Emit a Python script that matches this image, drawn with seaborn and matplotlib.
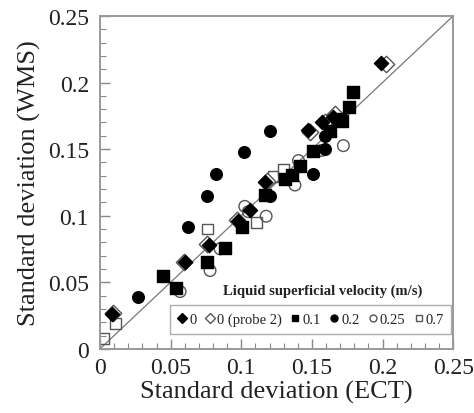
import matplotlib
matplotlib.use("Agg")
import matplotlib.pyplot as plt
import seaborn as sns
import pandas as pd
import numpy as np
from matplotlib.ticker import MultipleLocator, FixedLocator
from matplotlib.lines import Line2D

sns.set_theme(style="white")
plt.rcParams['font.family'] = ['Liberation Serif', 'DejaVu Serif']

# series data (ECT x, WMS y)
s0_x = [0.0087, 0.060, 0.077, 0.098, 0.106, 0.117, 0.1475, 0.157, 0.165, 0.199]
s0_y = [0.026, 0.065, 0.078, 0.096, 0.104, 0.125, 0.164, 0.170, 0.174, 0.2147]

s0p2_x = [0.0095, 0.0595, 0.0755, 0.097, 0.118, 0.149, 0.159, 0.1665, 0.2023]
s0p2_y = [0.027, 0.065, 0.079, 0.097, 0.126, 0.163, 0.170, 0.176, 0.214]

s01_x = [0.0449, 0.0538, 0.0755, 0.0885, 0.1003, 0.1165, 0.131, 0.1357, 0.1416,
         0.1506, 0.1629, 0.170, 0.171, 0.1765, 0.1794]
s01_y = [0.0546, 0.0458, 0.0651, 0.0756, 0.0913, 0.1153, 0.1276, 0.1306, 0.1376,
         0.1489, 0.1639, 0.1727, 0.1714, 0.1814, 0.1927]

s02_x = [0.0272, 0.062, 0.0755, 0.082, 0.102, 0.120, 0.1204, 0.151, 0.1593, 0.1593]
s02_y = [0.0388, 0.0913, 0.1146, 0.131, 0.1476, 0.1634, 0.1151, 0.1314, 0.150, 0.160]

s025_x = [0.0567, 0.0779, 0.085, 0.1025, 0.105, 0.1176, 0.138, 0.1405, 0.157, 0.1723]
s025_y = [0.043, 0.0588, 0.0751, 0.107, 0.103, 0.0996, 0.123, 0.1414, 0.149, 0.1526]

s07_x = [0.0024, 0.0111, 0.0762, 0.111, 0.1225, 0.1298]
s07_y = [0.0075, 0.0188, 0.090, 0.0946, 0.1295, 0.1346]

labels = ["0", "0 (probe 2)", "0.1", "0.2", "0.25", "0.7"]
tick_vals = [0, 0.05, 0.1, 0.15, 0.2, 0.25]
tick_labels = ["0", "0.05", "0.1", "0.15", "0.2", "0.25"]

fig = plt.figure(figsize=(4.74, 4.14), dpi=100)
ax = fig.add_axes([0.211, 0.155, 0.745, 0.804])

ax.plot([0, 0.25], [0, 0.25], color="#777777", lw=0.9, zorder=1)

grey = "#555555"
specs = [
    (s0p2_x, s0p2_y, "D", "white", grey, 70, 3),
    (s0_x, s0_y, "D", "black", "black", 52, 4),
    (s01_x, s01_y, "s", "black", "black", 70, 3),
    (s02_x, s02_y, "o", "black", "black", 70, 3),
    (s025_x, s025_y, "o", "none", grey, 70, 2),
    (s07_x, s07_y, "s", "none", grey, 60, 2),
]
for xs, ys, m, fc, ec, s, z in specs:
    df = pd.DataFrame({"x": xs, "y": ys})
    sns.scatterplot(data=df, x="x", y="y", marker=m, s=s, facecolor=fc,
                    edgecolor=ec, linewidth=1.0, ax=ax, zorder=z, legend=False)

ax.set_xlim(0, 0.25)
ax.set_ylim(0, 0.25)
ax.xaxis.set_major_locator(FixedLocator(tick_vals))
ax.yaxis.set_major_locator(FixedLocator(tick_vals))
ax.set_xticklabels(tick_labels)
ax.set_yticklabels(tick_labels)
ax.xaxis.set_minor_locator(MultipleLocator(0.01))
ax.yaxis.set_minor_locator(MultipleLocator(0.01))
ax.tick_params(which="both", direction="in", bottom=True, left=True, top=False, right=False,
               colors="#888888", labelcolor="#222222", labelsize=17)
ax.tick_params(which="major", length=7, width=1)
ax.tick_params(which="minor", length=4, width=0.8)
ax.tick_params(axis="x", pad=6)
ax.tick_params(axis="y", pad=8)
for sp in ax.spines.values():
    sp.set_color("#999999")
    sp.set_linewidth(1.4)

ax.set_xlabel("Standard deviation (ECT)", fontsize=19, color="#222222", labelpad=1)
ax.set_ylabel("Standard deviation (WMS)", fontsize=19, color="#222222", labelpad=5)

handles = [
    Line2D([], [], marker="D", ls="none", mfc="black", mec="black", ms=5),
    Line2D([], [], marker="D", ls="none", mfc="white", mec=grey, ms=5),
    Line2D([], [], marker="s", ls="none", mfc="black", mec="black", ms=5),
    Line2D([], [], marker="o", ls="none", mfc="black", mec="black", ms=5),
    Line2D([], [], marker="o", ls="none", mfc="white", mec=grey, ms=5),
    Line2D([], [], marker="s", ls="none", mfc="white", mec=grey, ms=5),
]
leg = ax.legend(handles, labels, ncol=6, loc="lower right", bbox_to_anchor=(0.995, 0.046),
                borderaxespad=0, fontsize=10.5, handlelength=0.6, handletextpad=0.2,
                columnspacing=0.6, frameon=True, fancybox=False, borderpad=0.5)
leg.get_frame().set_edgecolor("#999999")
leg.get_frame().set_linewidth(1.0)
for t in leg.get_texts():
    t.set_color("#222222")

ax.text(0.63, 0.175, "Liquid superficial velocity (m/s)", transform=ax.transAxes,
        ha="center", va="center", fontsize=10.5, color="#222222", fontweight="bold")

fig.savefig("out.png", dpi=100)
